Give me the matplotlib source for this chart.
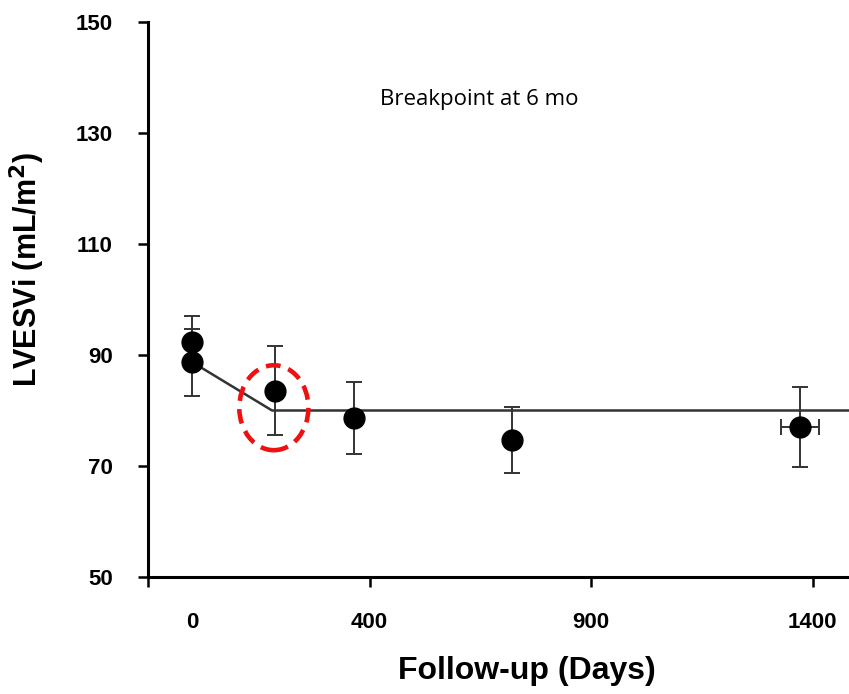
import matplotlib
matplotlib.use("Agg")
import matplotlib.pyplot as plt
from matplotlib.patches import Ellipse
import numpy as np

# Data
days = [0, 0, 187, 364, 722, 1372]
lvesvi = [92.3, 88.7, 83.6, 78.7, 74.7, 77.1]
yerr = [4.7, 6.0, 8.0, 6.5, 6.0, 7.2]
xerr = [0, 0, 0, 0, 0, 43]

# piecewise fit: start, breakpoint, end
fit_x = [0, 180, 1482]
fit_y = [88.7, 80.0, 80.0]

xticks = [0, 400, 900, 1400]
yticks = [50, 70, 90, 110, 130, 150]

plt.rcParams['font.family'] = ['Liberation Sans', 'DejaVu Sans']

fig = plt.figure(figsize=(8.49, 6.94), dpi=100)
ax = fig.add_axes([148 / 849, 117 / 694, 1 - 148 / 849, 555 / 694])

ax.plot(fit_x, fit_y, color='#333333', lw=1.8, zorder=2)
ax.errorbar(days, lvesvi, yerr=yerr, xerr=xerr, fmt='o', color='black',
            ms=15, ecolor='#333333', elinewidth=1.4, capsize=5.5,
            capthick=1.4, zorder=3)

ax.add_patch(Ellipse((184, 80.5), 156, 15.3, fill=False, edgecolor='#ee1111',
                     lw=3.3, linestyle=(0, (3.2, 1.8)), zorder=4))

ax.text(648, 136.1, 'Breakpoint at 6 mo', ha='center', va='center',
        fontsize=16, family=['Open Sans', 'DejaVu Sans'])

ax.set_xlim(-100, 1482)
ax.set_ylim(50, 150)
ax.set_xticks(xticks)
ax.set_xticks([-100], minor=True)
ax.set_yticks(yticks)
ax.xaxis.get_major_ticks()[0].tick1line.set_visible(False)

for s in ['top', 'right']:
    ax.spines[s].set_visible(False)
for s in ['left', 'bottom']:
    ax.spines[s].set_linewidth(2.2)

ax.tick_params(which='both', length=7.5, width=1.8, pad=18)
ax.tick_params(axis='both', labelsize=16)
for lab in ax.get_xticklabels() + ax.get_yticklabels():
    lab.set_fontweight('bold')

ax.set_xlabel('Follow-up (Days)', fontsize=23, fontweight='bold')
ax.xaxis.set_label_coords(0.54, -0.142)
ax.set_ylabel('LVESVi (mL/m$^\\mathbf{2}$)', fontsize=22, fontweight='bold')
ax.yaxis.set_label_coords(-0.144, 0.555)

fig.savefig('out.png', dpi=100)
